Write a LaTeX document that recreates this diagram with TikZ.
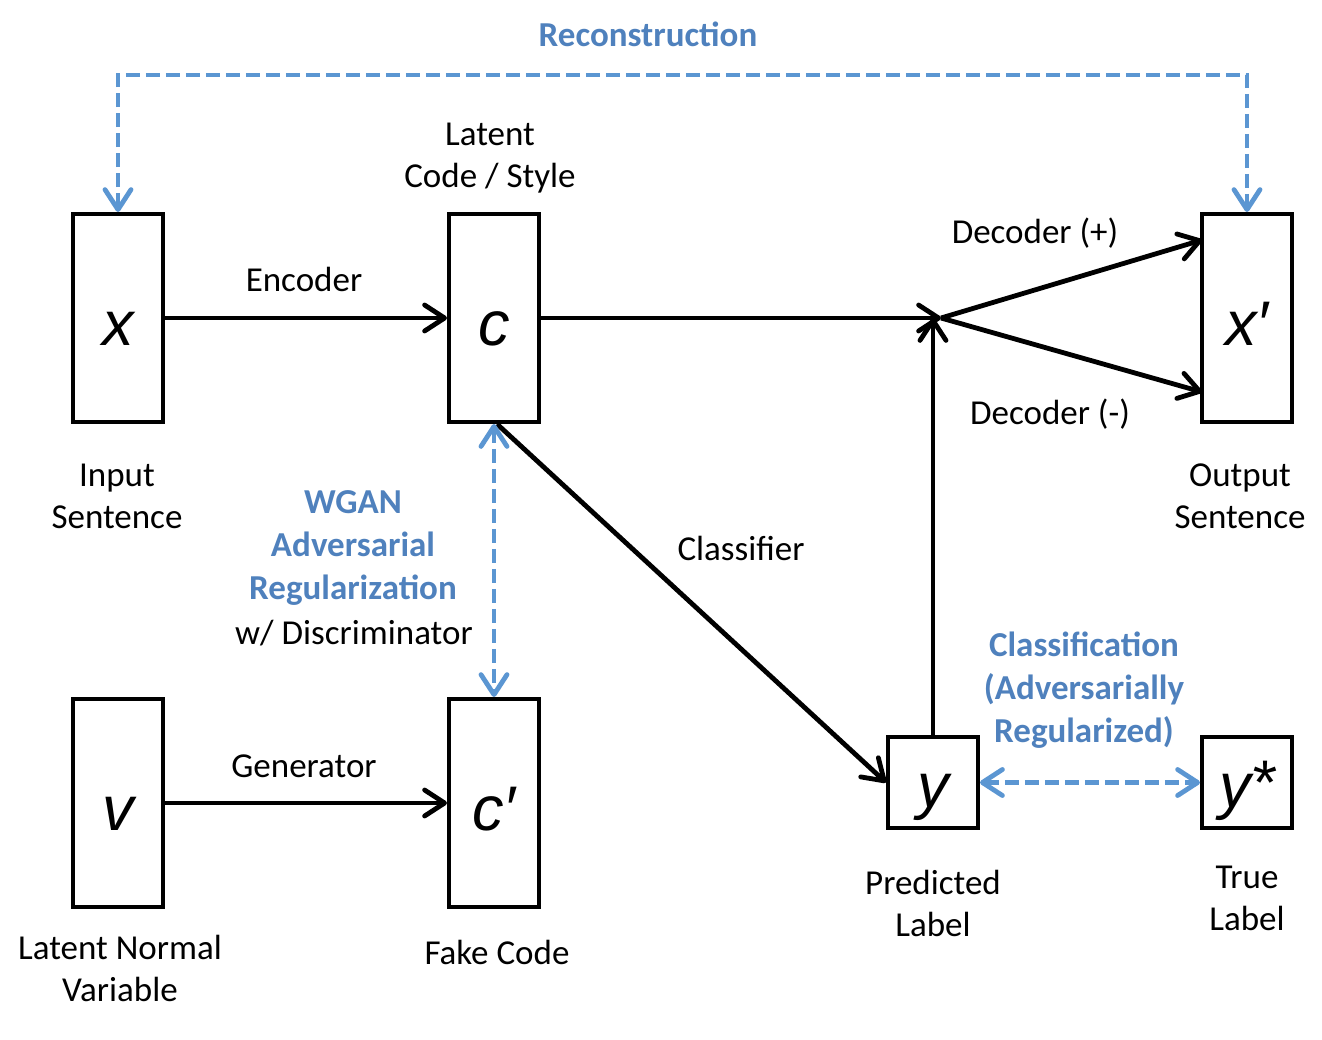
\documentclass[tikz,border=0pt]{standalone}
\usepackage{fontspec}
\setmainfont{Carlito}
\newfontfamily\letterfont{Liberation Sans}
\usetikzlibrary{arrows.meta,calc}
\definecolor{lblue}{RGB}{91,150,210}
\definecolor{tblue}{RGB}{79,129,189}
\begin{document}
\begin{tikzpicture}[x=1pt,y=-1pt, line width=4.8pt,
 box/.style={draw, line width=4pt, minimum width=90pt, minimum height=208pt, inner sep=0pt},
 sbox/.style={draw, line width=4pt, minimum width=90pt, minimum height=91pt, inner sep=0pt},
 lbl/.style={font=\fontsize{35}{42}\selectfont, align=center, inner sep=0pt},
 blbl/.style={font=\fontsize{35}{43}\selectfont\bfseries, text=tblue, align=center, inner sep=0pt},
 var/.style={font=\fontsize{63}{63}\selectfont\letterfont\itshape, anchor=base, inner sep=0pt},
 tip/.style={-{Straight Barb[length=20pt,width=26pt,round]}},
 btip/.style={{Straight Barb[length=20pt,width=26pt,round]}-{Straight Barb[length=20pt,width=26pt,round]}},
 bline/.style={draw=lblue, line width=4.8pt, dash pattern=on 14pt off 6pt}
]
\path[use as bounding box, fill=white] (0,0) rectangle (1322,1039);

% boxes
\node[box] (x) at (118,318) {};
\node[box] (c) at (494,318) {};
\node[box] (xp) at (1247,318) {};
\node[box] (v) at (118,803) {};
\node[box] (cp) at (494,803) {};
\node[sbox] (y) at (933,782.5) {};
\node[sbox] (ys) at (1247,782.5) {};

% variables
\node[var] (xl) at (118,345) {x};
\node[var] (cl) at (494,345) {c};
\node[var] (xpl) at (1247,345) {x′};
\node[var] (vl) at (118,830) {v};
\node[var] (cpl) at (494,830) {c′};
\node[var] (yl) at (933,807) {y};
\node[var] (ysl) at (1247,807) {y\raisebox{3pt}{*}};

% labels
\node[blbl] (recl) at (648,34) {Reconstruction};
\node[lbl] (latl) at (490,158) {Latent\\Code / Style};
\node[lbl] (inl) at (117,496) {Input\\Sentence};
\node[lbl] (outl) at (1240,496) {Output\\Sentence};
\node[lbl] (encl) at (304,279) {Encoder};
\node[lbl] (decp) at (1035,233) {Decoder (+)};
\node[lbl] (decm) at (1050,414) {Decoder (-)};
\node[lbl] (clsl) at (741,548) {Classifier};
\node[blbl] (wganl) at (353,548) {WGAN\\Adversarial\\Regularization};
\node[lbl] (discl) at (354,633) {w/ Discriminator};
\node[blbl] (classl) at (1084,690) {Classification\\(Adversarially\\Regularized)};
\node[lbl] (genl) at (304,766) {Generator};
\node[lbl] (lnvl) at (120,968) {Latent Normal\\Variable};
\node[lbl] (fakel) at (497,952) {Fake Code};
\node[lbl] (predl) at (933,903) {Predicted\\Label};
\node[lbl] (truel) at (1247,898) {True\\Label};

% black connectors
\coordinate (j) at (941,318);
\coordinate (dp) at (1202,240);
\coordinate (dm) at (1202,392);
\draw[tip] (x.east) -- (c.west);
\draw[tip] (v.east) -- (cp.west);
\draw[tip] (c.east) -- (j);
\draw[tip] (y.north) -- (y.north |- j);
\draw[tip] (j) -- (dp);
\draw[tip] (j) -- (dm);
\draw[tip] ($(c.south)+(3,0)$) -- (y.west);

% blue connectors
\coordinate (rtop) at (650,75);
\draw[bline, btip] (x.north) |- (rtop) -| (xp.north);
\draw[bline, btip] (c.south) -- (cp.north);
\draw[bline, btip] (y.east) -- (ys.west);
\end{tikzpicture}
\end{document}
